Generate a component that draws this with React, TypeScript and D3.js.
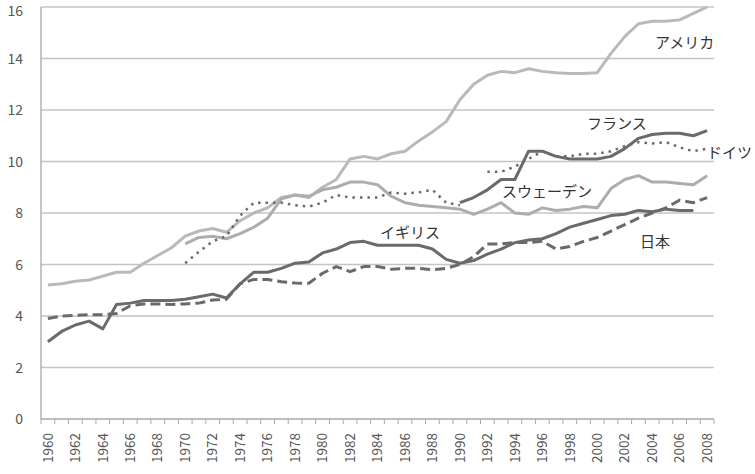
import React from "react";
import * as d3 from "d3";

const years: number[] = d3.range(1960, 2009);
const yTicks: number[] = [0, 2, 4, 6, 8, 10, 12, 14, 16];
const xTickLabels: number[] = d3.range(1960, 2009, 2);

// 1960..2008 (null = no data)
const usa: (number | null)[] = [
  5.2, 5.25, 5.35, 5.4, 5.55, 5.7, 5.7, 6.05, 6.35, 6.65,
  7.1, 7.3, 7.4, 7.25, 7.7, 8.0, 8.2, 8.6, 8.7, 8.6,
  9.0, 9.3, 10.1, 10.2, 10.1, 10.3, 10.4, 10.8, 11.15, 11.55,
  12.4, 13.0, 13.35, 13.5, 13.45, 13.6, 13.5, 13.45, 13.42, 13.42,
  13.45, 14.2, 14.85, 15.35, 15.45, 15.45, 15.5, 15.75, 16.0,
];
const sweden: (number | null)[] = [
  null, null, null, null, null, null, null, null, null, null,
  6.8, 7.05, 7.1, 7.0, 7.2, 7.45, 7.8, 8.55, 8.7, 8.65,
  8.9, 9.0, 9.2, 9.2, 9.1, 8.65, 8.4, 8.3, 8.25, 8.2,
  8.15, 7.95, 8.15, 8.4, 8.0, 7.95, 8.2, 8.1, 8.15, 8.25,
  8.2, 8.95, 9.3, 9.45, 9.2, 9.2, 9.15, 9.1, 9.45,
];
const france: (number | null)[] = [
  null, null, null, null, null, null, null, null, null, null,
  null, null, null, null, null, null, null, null, null, null,
  null, null, null, null, null, null, null, null, null, null,
  8.4, 8.6, 8.9, 9.3, 9.3, 10.4, 10.4, 10.2, 10.1, 10.1,
  10.1, 10.2, 10.5, 10.9, 11.05, 11.1, 11.1, 11.0, 11.2,
];
const germany: (number | null)[] = [
  null, null, null, null, null, null, null, null, null, null,
  6.05, 6.5, 6.9, 7.1, 7.9, 8.4, 8.4, 8.4, 8.3, 8.25,
  8.4, 8.7, 8.6, 8.6, 8.6, 8.8, 8.75, 8.8, 8.9, 8.4,
  8.3, null, 9.6, 9.6, 9.8, 10.1, 10.4, 10.2, 10.2, 10.3,
  10.3, 10.4, 10.6, 10.75, 10.7, 10.75, 10.55, 10.4, 10.5,
];
const japanSolid: (number | null)[] = [
  3.0, 3.4, 3.65, 3.8, 3.5, 4.45, 4.5, 4.6, 4.6, 4.6,
  4.65, 4.75, 4.85, 4.7, 5.25, 5.7, 5.7, 5.85, 6.05, 6.1,
  6.45, 6.6, 6.85, 6.9, 6.75, 6.75, 6.75, 6.75, 6.6, 6.2,
  6.05, 6.15, 6.4, 6.6, 6.85, 6.95, 7.0, 7.2, 7.45, 7.6,
  7.75, 7.9, 7.95, 8.1, 8.05, 8.15, 8.1, 8.1, null,
];
const ukDashed: (number | null)[] = [
  3.9, 4.0, 4.03, 4.05, 4.05, 4.1, 4.4, 4.47, 4.47, 4.45,
  4.47, 4.5, 4.62, 4.65, 5.25, 5.42, 5.42, 5.33, 5.28, 5.27,
  5.66, 5.92, 5.72, 5.92, 5.92, 5.82, 5.85, 5.85, 5.8, 5.85,
  6.0, 6.3, 6.8, 6.8, 6.85, 6.85, 6.9, 6.6, 6.7, 6.9,
  7.05, 7.3, 7.55, 7.8, 8.0, 8.2, 8.5, 8.4, 8.6,
];

const series = [
  { name: "usa", values: usa, color: "#b9b9b9", dash: "", width: 3 },
  { name: "sweden", values: sweden, color: "#adadad", dash: "", width: 3 },
  { name: "germany", values: germany, color: "#6a6a6a", dash: "2.5,5", width: 2.5 },
  { name: "france", values: france, color: "#6a6a6a", dash: "", width: 3 },
  { name: "japan", values: japanSolid, color: "#6a6a6a", dash: "", width: 3 },
  { name: "uk", values: ukDashed, color: "#6a6a6a", dash: "10,5", width: 3 },
];

const labels = [
  { text: "アメリカ", x: 655, y: 48 },
  { text: "フランス", x: 587, y: 129 },
  { text: "ドイツ", x: 707, y: 158 },
  { text: "スウェーデン", x: 502, y: 197 },
  { text: "イギリス", x: 380, y: 238 },
  { text: "日本", x: 640, y: 247 },
];

const W = 755;
const H = 474;
const left = 41;
const right = 714;
const top = 7;
const bottom = 419;
const font = "'Noto Sans CJK JP', 'Noto Sans', sans-serif";

export default function App() {
  const x = d3.scaleBand<number>().domain(years).range([left, right]).padding(0);
  const y = d3.scaleLinear().domain([0, 16]).range([bottom, top]);
  const cx = (yr: number) => (x(yr) as number) + x.bandwidth() / 2;

  const lineGen = (vals: (number | null)[]) =>
    d3
      .line<number | null>()
      .defined((d) => d != null)
      .x((_, i) => cx(years[i]))
      .y((d) => y(d as number))(vals) || "";

  const boundaries = years.map((yr) => x(yr) as number).concat([right]);

  return (
    <svg
      width={W}
      height={H}
      style={{ position: "absolute", left: 0, top: 0, background: "#fff" }}
      fontFamily={font}
    >
      {yTicks.map((t) => (
        <line
          key={"g" + t}
          x1={left}
          x2={right}
          y1={y(t)}
          y2={y(t)}
          stroke={t === 0 ? "#a8a8a8" : "#c4c4c4"}
          strokeWidth={1.3}
        />
      ))}
      <line x1={left} x2={left} y1={top} y2={bottom} stroke="#a8a8a8" strokeWidth={1.3} />
      {boundaries.map((b, i) => (
        <line key={"t" + i} x1={b} x2={b} y1={bottom} y2={bottom + 5} stroke="#a8a8a8" strokeWidth={1} />
      ))}
      {yTicks.map((t) => (
        <text
          key={"yl" + t}
          x={23}
          y={Math.max(y(t), 11)}
          dy="0.36em"
          textAnchor="end"
          fontSize={14}
          fill="#555"
        >
          {t}
        </text>
      ))}
      {xTickLabels.map((yr) => (
        <text
          key={"xl" + yr}
          transform={`translate(${cx(yr)},${bottom + 14}) rotate(-90)`}
          textAnchor="end"
          dy="0.35em"
          fontSize={13.5}
          fill="#555"
        >
          {yr}
        </text>
      ))}
      {series.map((s) => (
        <path
          key={s.name}
          d={lineGen(s.values)}
          fill="none"
          stroke={s.color}
          strokeWidth={s.width}
          strokeDasharray={s.dash || undefined}
          strokeLinejoin="round"
        />
      ))}
      {labels.map((l) => (
        <text key={l.text} x={l.x} y={l.y} fontSize={15} fill="#333">
          {l.text}
        </text>
      ))}
    </svg>
  );
}
